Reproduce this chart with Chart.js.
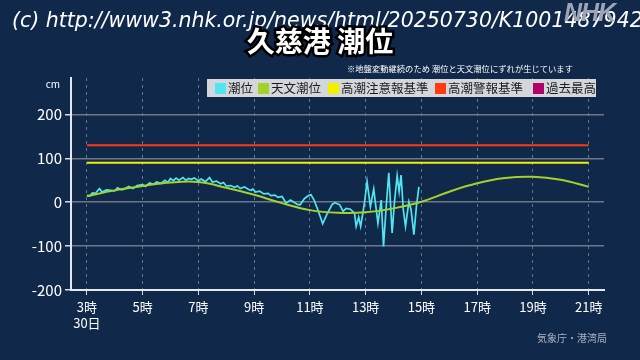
<!DOCTYPE html>
<html lang="ja">
<head>
<meta charset="utf-8">
<script src="https://cdn.jsdelivr.net/npm/chart.js@4"></script>
<style>
body { margin: 0; width: 640px; height: 360px; overflow: hidden; position: relative;
       background: #10284a; font-family: "Noto Sans CJK JP", sans-serif; }
#chartChoui { position: absolute; left: 0; top: 0; }
.wm { position: absolute; left: 12px; top: 8px; white-space: nowrap; color: #fff;
      font: italic 20.5px "DejaVu Sans", sans-serif; }
.logo { position: absolute; left: 564px; top: -2px; color: #9ba5b3;
        font: italic bold 25px "Liberation Sans", sans-serif; letter-spacing: -1px; }
.titulo { position: absolute; left: 0; width: 640px; top: 20px; text-align: center; color: #fff;
          font-size: 28px; font-weight: bold; paint-order: stroke fill;
          -webkit-text-stroke: 5px #000; }
.nota { position: absolute; left: 347px; top: 62px; color: #fff; font-size: 8.3px; white-space: nowrap; }
.legenda { position: absolute; left: 207px; top: 79px; width: 389px; height: 18px; background: #d3d6db; }
.item { position: absolute; top: 0; height: 18px; line-height: 18px; font-size: 12.5px;
        color: #1c1c1c; white-space: nowrap; }
.item span { display: inline-block; width: 11px; height: 11px; margin-right: 2px; vertical-align: -1px; }
.fonte { position: absolute; left: 537px; top: 330px; color: #a9b2bf; font-size: 10px; white-space: nowrap; }
</style>
</head>
<body>
<canvas id="chartChoui" width="640" height="360"></canvas>
<div class="wm">(c) http://www3.nhk.or.jp/news/html/20250730/K10014879421000</div>
<div class="logo">NHK</div>
<div class="titulo">久慈港 潮位</div>
<div class="nota">※地盤変動継続のため 潮位と天文潮位にずれが生じています</div>
<div class="legenda">
  <div class="item" style="left:8px"><span style="background:#4fe6f2"></span>潮位</div>
  <div class="item" style="left:51px"><span style="background:#a6d12b"></span>天文潮位</div>
  <div class="item" style="left:121px"><span style="background:#f4f000"></span>高潮注意報基準</div>
  <div class="item" style="left:228px"><span style="background:#ff3a10"></span>高潮警報基準</div>
  <div class="item" style="left:326px"><span style="background:#b3006b"></span>過去最高</div>
</div>
<div class="fonte">気象庁・港湾局</div>
<script>
// 潮位 (cm), 30日 3時〜15時
var horasObs = [3.0, 3.1, 3.2, 3.3, 3.45, 3.55, 3.7, 3.85, 4.0, 4.1, 4.25, 4.35, 4.5, 4.65, 4.8,
    5.0, 5.1, 5.25, 5.4, 5.5, 5.65, 5.8, 5.9, 6.0, 6.1, 6.2, 6.3, 6.45, 6.55, 6.65, 6.75, 6.85,
    7.0, 7.1, 7.25, 7.4, 7.5, 7.65, 7.8, 7.9, 8.0, 8.15, 8.3, 8.4, 8.5, 8.65, 8.8, 8.9, 8.95,
    9.05, 9.2, 9.35, 9.5, 9.6, 9.75, 9.85, 10.0, 10.15, 10.3, 10.4, 10.55, 10.65, 10.8, 10.95,
    11.04, 11.15, 11.3, 11.46, 11.6, 11.8, 11.9, 12.07, 12.19, 12.3, 12.45, 12.6, 12.66, 12.75,
    12.82, 12.9, 12.97, 13.05, 13.17, 13.29, 13.44, 13.56, 13.64, 13.73, 13.83, 13.95, 14.03,
    14.13, 14.2, 14.27, 14.35, 14.43, 14.55, 14.63, 14.73, 14.82, 14.91];
var nivelObs = [16, 14, 21, 20, 31, 23, 28, 27, 26, 33, 28, 30, 36, 31, 38,
    40, 36, 44, 41, 46, 43, 50, 45, 54, 49, 55, 50, 56, 50, 54, 52, 55,
    49, 53, 47, 56, 46, 48, 42, 45, 37, 38, 34, 37, 31, 35, 29, 27, 30,
    23, 25, 19, 20, 15, 16, 11, 13, -2, 5, 1, -5, -6, 8, 15,
    17, 5, -20, -49, -29, -5, -1, -6, -21, -14, -16, -25, -55, -34,
    -55, -25, 5, 47, -10, 30, -48, 5, -101, -17, 67, -70, -2,
    60, 24, 62, -17, -55, 1, -17, -74, -10, 35];

// 天文潮位 (cm)
var horasAstro = [3, 4, 5, 6, 7, 8, 9, 10, 11, 12, 13, 14, 15, 16, 17, 18, 19, 20, 21];
var nivelAstro = [14, 27, 37, 45, 46, 33, 17, -2, -18, -24, -23, -14, 1, 24, 43, 55, 58, 51, 35];

var alerta = 90;      // 高潮注意報基準
var aviso = 130;      // 高潮警報基準
var inicio = 3, fim = 21;

var horasTick = [3, 5, 7, 9, 11, 13, 15, 17, 19, 21];
var nivelTick = [-200, -100, 0, 100, 200];

function pares(xs, ys) {
    return xs.map(function (h, i) { return { x: h, y: ys[i] }; });
}

const ctx = document.getElementById('chartChoui');

new Chart(ctx, {
    type: 'line',
    data: {
        datasets: [{
            label: '高潮警報基準',
            data: [{ x: inicio, y: aviso }, { x: fim, y: aviso }],
            borderColor: '#ff3a10',
            borderWidth: 2,
            pointRadius: 0
        }, {
            label: '高潮注意報基準',
            data: [{ x: inicio, y: alerta }, { x: fim, y: alerta }],
            borderColor: '#f4f000',
            borderWidth: 2,
            pointRadius: 0
        }, {
            label: '天文潮位',
            data: pares(horasAstro, nivelAstro),
            borderColor: '#a6d12b',
            borderWidth: 2,
            pointRadius: 0,
            tension: 0.4
        }, {
            label: '潮位',
            data: pares(horasObs, nivelObs),
            borderColor: '#4fe6f2',
            borderWidth: 1.7,
            pointRadius: 0,
            tension: 0
        }]
    },
    options: {
        responsive: false,
        animation: false,
        layout: { padding: { left: 0, top: 78, right: 36, bottom: 20 } },
        plugins: { legend: { display: false }, tooltip: { enabled: false } },
        scales: {
            x: {
                type: 'linear',
                min: 2.43,
                max: 21.55,
                afterBuildTicks: function (s) {
                    s.ticks = horasTick.map(function (v) { return { value: v }; });
                },
                afterFit: function (s) { s.height = 50; },
                grid: {
                    color: 'rgba(170,180,195,0.55)',
                    lineWidth: 1,
                    tickColor: '#d8dce2',
                    tickLength: 5
                },
                border: { color: '#e6e8ec', width: 2, dash: [3, 4] },
                ticks: {
                    color: '#ffffff',
                    padding: 4,
                    maxRotation: 0,
                    autoSkip: false,
                    font: { family: '"Noto Sans CJK JP"', size: 13, lineHeight: 1.25 },
                    callback: function (v) {
                        return v === 3 ? ['3時', '30日'] : v + '時';
                    }
                }
            },
            y: {
                min: -200,
                max: 283,
                afterBuildTicks: function (s) {
                    s.ticks = nivelTick.map(function (v) { return { value: v }; });
                },
                afterFit: function (s) { s.width = 71; },
                grid: {
                    color: function (c) {
                        return c.tick && c.tick.value === -200 ? 'rgba(0,0,0,0)' : '#6f7784';
                    },
                    lineWidth: 1.5,
                    tickColor: '#d8dce2',
                    tickLength: 6
                },
                border: { color: '#e6e8ec', width: 2 },
                ticks: {
                    color: '#ffffff',
                    padding: 3,
                    font: { family: '"Noto Sans CJK JP"', size: 15 }
                }
            }
        }
    },
    plugins: [{
        id: 'unidade',
        afterDraw: function (chart) {
            var c = chart.ctx;
            c.save();
            c.fillStyle = '#ffffff';
            c.font = '10px "Noto Sans CJK JP"';
            c.textAlign = 'right';
            c.textBaseline = 'middle';
            c.fillText('cm', 60, 84);
            c.restore();
        }
    }]
});
</script>
</body>
</html>
